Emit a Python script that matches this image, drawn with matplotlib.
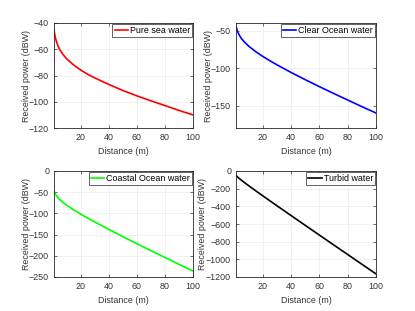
import matplotlib
matplotlib.use('Agg')
import matplotlib.pyplot as plt
import matplotlib.transforms as mtransforms

plt.rcParams['font.family'] = ['Liberation Sans', 'DejaVu Sans']

# distance samples (m)
distance = [1, 1.5, 2, 3, 4, 5, 7, 10, 15, 20, 25, 30, 40, 50, 60, 70, 80, 90, 100]

pure_sea = [-45, -48.6, -51.3, -55.0, -57.8, -60.0, -63.4, -67.3, -72.0, -75.8, -79.1,
            -81.8, -86.8, -91.4, -95.5, -99.3, -102.9, -106.6, -110.0]
clear_ocean = [-44, -47.9, -50.8, -55.1, -58.3, -61.1, -65.5, -70.9, -78.3, -84.6, -90.4,
               -95.8, -106.0, -115.6, -124.9, -133.9, -142.7, -151.5, -160.0]
coastal_ocean = [-47, -51.3, -54.5, -59.5, -63.5, -67.0, -72.9, -80.5, -91.6, -101.6, -111.1,
                 -120.1, -137.7, -154.7, -171.4, -187.7, -203.9, -220.1, -236.0]
turbid = [-49, -57.9, -65.9, -80.2, -93.6, -106.5, -131.1, -166.8, -224.7, -281.5, -338.0,
          -393.7, -505.0, -615.6, -726.0, -835.9, -945.7, -1055.5, -1165.0]

series = [
    (pure_sea, 'Pure sea water', 'red', (-120, -40), [-120, -100, -80, -60, -40]),
    (clear_ocean, 'Clear Ocean water', 'blue', (-180, -40), [-150, -100, -50]),
    (coastal_ocean, 'Coastal Ocean water', '#00ff00', (-250, 0), [-250, -200, -150, -100, -50, 0]),
    (turbid, 'Turbid water', 'black', (-1200, 0), [-1200, -1000, -800, -600, -400, -200, 0]),
]

# axes boxes in pixels (left, top, right, bottom) on a 415x311 canvas
boxes = [(54, 23, 193, 128), (236, 23, 376, 128), (54, 171, 193, 277), (236, 171, 376, 277)]
ylabel_x = [31, 213, 31, 207]

W, H = 415, 311
fig = plt.figure(figsize=(W / 100, H / 100), dpi=100)
txt = '#333333'
fs = 6.4

for (vals, name, color, ylim, yticks), (l, t, r, b), lx in zip(series, boxes, ylabel_x):
    ax = fig.add_axes([l / W, 1 - b / H, (r - l) / W, (b - t) / H])
    ax.plot(distance, vals, color=color, lw=1.2, label=name)
    ax.set_xlim(1, 100)
    ax.set_ylim(*ylim)
    ax.set_xticks([20, 40, 60, 80, 100])
    ax.set_yticks(yticks)
    ax.grid(True, color='#ebebeb', lw=0.5)
    ax.set_axisbelow(True)
    ax.tick_params(direction='in', length=2, width=0.5, labelsize=fs,
                   colors=txt, top=True, right=True, pad=3.5)
    for s in ax.spines.values():
        s.set_linewidth(0.6)
        s.set_color('#262626')
    ax.set_xlabel('Distance (m)', fontsize=fs, color=txt, labelpad=3.5)
    ax.set_ylabel('Received power (dBW)', fontsize=fs, color=txt)
    trans = mtransforms.blended_transform_factory(fig.transFigure, ax.transAxes)
    ax.yaxis.set_label_coords(lx / W, 0.5, transform=trans)
    leg = ax.legend(loc='upper right', fontsize=fs, handlelength=1.5, handletextpad=0.2,
                    borderpad=0.25, borderaxespad=0.1, fancybox=False, framealpha=1)
    leg.get_frame().set_edgecolor('#262626')
    leg.get_frame().set_linewidth(0.5)

fig.savefig('out.png', dpi=100)
